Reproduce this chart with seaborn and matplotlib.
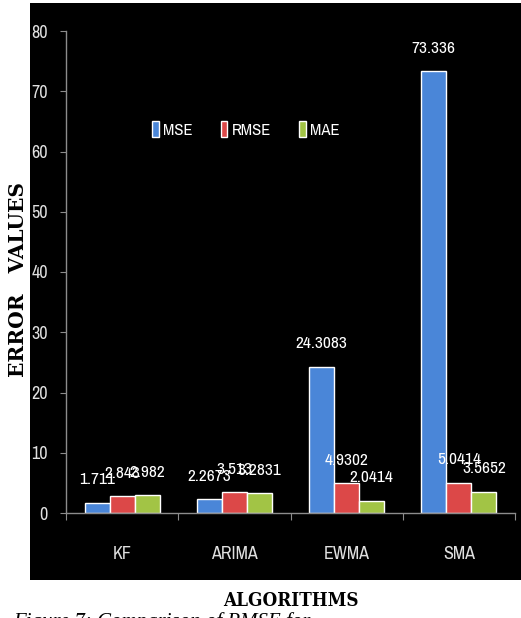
import matplotlib
matplotlib.use("Agg")
import matplotlib.pyplot as plt
from matplotlib import font_manager
from matplotlib.patches import Rectangle
import seaborn as sns
import pandas as pd

algorithms = ["KF", "ARIMA", "EWMA", "SMA"]
metrics = ["MSE", "RMSE", "MAE"]
mse = [1.711, 2.2673, 24.3083, 73.336]
rmse = [2.843, 3.513, 4.9302, 5.0414]
mae = [2.982, 3.2831, 2.0414, 3.5652]
y_ticks = [0, 10, 20, 30, 40, 50, 60, 70, 80]
colors = ["#4a86d8", "#dc4848", "#a2c445"]

rows = []
for m, vals in zip(metrics, [mse, rmse, mae]):
    for a, v in zip(algorithms, vals):
        rows.append({"Algorithm": a, "Metric": m, "Value": v})
df = pd.DataFrame(rows)

sns.set_style("white")
names = {f.name for f in font_manager.fontManager.ttflist}


def pick(cands, default):
    for c in cands:
        if c in names:
            return c
    return default


narrow = pick(["Archivo Narrow", "Liberation Sans Narrow", "Barlow Semi Condensed"],
              "DejaVu Sans")
plt.rcParams["font.family"] = [narrow, "DejaVu Sans"]

fig = plt.figure(figsize=(5.21, 6.18), dpi=100, facecolor="white")
fig.add_artist(Rectangle((30 / 521, 1 - 580 / 618), 491 / 521, 577 / 618,
                         transform=fig.transFigure, facecolor="black",
                         edgecolor="none", zorder=0))
ax = fig.add_axes([66 / 521, 1 - 513 / 618, 449 / 521, 482 / 618])
ax.set_facecolor("black")

sns.barplot(data=df, x="Algorithm", y="Value", hue="Metric", order=algorithms,
            hue_order=metrics, palette=colors, width=0.67, saturation=1,
            ax=ax, legend=True)

for cont, vals in zip(ax.containers, [mse, rmse, mae]):
    ax.bar_label(cont, labels=[f"{v:g}" for v in vals], padding=11,
                 color="white", fontsize=12.5)

ax.set_ylim(0, 80)
ax.set_xlim(-0.5, 3.5)
ax.set_yticks(y_ticks)
ax.set_xlabel("")
ax.set_ylabel("")
ax.tick_params(axis="y", colors="#8c8c8c", labelcolor="#e0e0e0", labelsize=13,
               length=4, width=0.8, pad=9, left=True, direction="out")
ax.tick_params(axis="x", which="major", length=0, labelcolor="#e0e0e0",
               labelsize=13, pad=24)
ax.set_xticks([-0.5, 0.5, 1.5, 2.5, 3.5], minor=True)
ax.tick_params(axis="x", which="minor", length=5, width=0.8, color="#8c8c8c",
               bottom=True, direction="out")
for s in ["top", "right"]:
    ax.spines[s].set_visible(False)
for s in ["left", "bottom"]:
    ax.spines[s].set_color("#8c8c8c")
    ax.spines[s].set_linewidth(1.0)

leg = ax.legend(loc="center", bbox_to_anchor=(0.40, 0.795), ncol=3, frameon=False,
                handlelength=0.4, handleheight=1.1, handletextpad=0.25,
                columnspacing=1.7, fontsize=12)
for t in leg.get_texts():
    t.set_color("white")

fig.text(18 / 521, 1 - 280 / 618, "ERROR   VALUES", rotation=90, ha="center",
         va="center", fontsize=14.5, fontweight="bold",
         family=["DejaVu Serif"], color="black")
fig.text(291 / 521, 1 - 601 / 618, "ALGORITHMS", ha="center", va="center",
         fontsize=13.5, fontweight="bold", fontstretch="condensed",
         family=["DejaVu Serif"], color="black")
fig.text(13 / 521, 1 - 612 / 618, "Figure 7: Comparison of RMSE for", ha="left",
         va="top", fontsize=15, fontstyle="italic",
         family=["Liberation Serif", "DejaVu Serif"], color="black")

fig.savefig("out.png", dpi=100, facecolor="white")
